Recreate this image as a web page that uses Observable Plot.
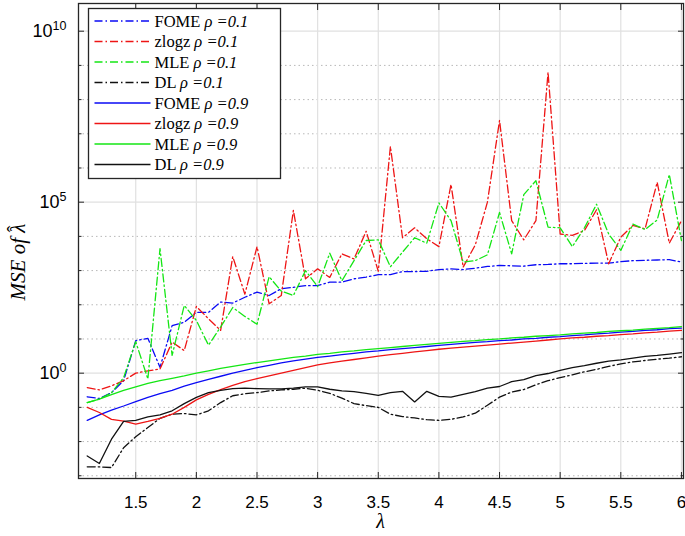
<!DOCTYPE html>
<html><head><meta charset="utf-8">
<script src="https://cdn.jsdelivr.net/npm/d3@7"></script>
<script src="https://cdn.jsdelivr.net/npm/@observablehq/plot@0.6"></script>
<style>
html,body{margin:0;padding:0;background:#fff;}
#chart{position:relative;width:685px;height:536px;overflow:hidden;}
</style></head>
<body><div id="chart"></div>
<script>
// ---- data (MSE values given as log10 exponents) ----
const lambda = [1.1,1.2,1.3,1.4,1.5,1.6,1.7,1.8,1.9,2.0,
                2.1,2.2,2.3,2.4,2.5,2.6,2.7,2.8,2.9,3.0,
                3.1,3.2,3.3,3.4,3.5,3.6,3.7,3.8,3.9,4.0,
                4.1,4.2,4.3,4.4,4.5,4.6,4.7,4.8,4.9,5.0,
                5.1,5.2,5.3,5.4,5.5,5.6,5.7,5.8,5.9,6.0];

const seriesNames = ["FOME", "zlogz", "MLE", "DL", "FOME", "zlogz", "MLE", "DL"];
const seriesRho   = ["0.1", "0.1", "0.1", "0.1", "0.9", "0.9", "0.9", "0.9"];

const log10_FOME_rho01 = [-0.69,-0.74,-0.57,-0.22,0.95,1.02,0.17,1.39,1.49,1.78,
  1.78,2.08,2.05,2.22,2.37,2.27,2.47,2.51,2.56,2.56,
  2.66,2.66,2.76,2.81,2.88,2.88,2.97,2.97,2.98,3.03,
  3.05,3.03,3.07,3.12,3.15,3.14,3.13,3.17,3.18,3.20,
  3.20,3.21,3.22,3.22,3.26,3.29,3.30,3.31,3.32,3.25];
const log10_zlogz_rho01 = [-0.42,-0.49,-0.37,-0.22,0.00,0.07,0.12,0.91,0.66,1.95,
  1.59,1.25,3.41,2.31,3.70,2.03,2.27,4.76,2.76,3.05,
  2.80,3.49,3.34,4.15,2.98,6.63,3.96,4.25,3.93,3.70,
  5.52,3.10,3.75,5.00,7.39,4.46,3.90,4.46,8.80,4.07,
  4.03,4.17,4.78,3.20,3.98,4.32,4.22,5.58,3.80,4.46];
const log10_MLE_rho01 = [-0.86,-0.76,-0.57,-0.13,0.92,-0.17,3.64,0.52,1.98,1.54,
  0.82,1.35,1.92,1.66,1.43,2.82,2.40,2.27,3.00,2.53,
  3.51,2.70,3.29,3.88,3.90,3.11,3.54,3.96,3.80,4.98,
  4.46,3.25,3.29,3.46,4.70,3.49,5.22,5.63,4.27,4.25,
  3.70,4.25,4.94,4.07,3.59,4.36,4.20,4.48,5.81,3.88];
const log10_DL_rho01 = [-2.74,-2.74,-2.76,-2.18,-1.86,-1.59,-1.32,-1.20,-1.18,-1.22,
  -1.10,-0.86,-0.66,-0.60,-0.57,-0.52,-0.49,-0.47,-0.44,-0.50,
  -0.59,-0.73,-0.89,-0.95,-1.00,-1.20,-1.27,-1.31,-1.36,-1.38,
  -1.35,-1.28,-1.17,-0.94,-0.70,-0.55,-0.48,-0.34,-0.22,-0.13,
  -0.05,0.04,0.11,0.20,0.27,0.33,0.37,0.41,0.44,0.48];
const log10_FOME_rho09 = [-1.38,-1.22,-1.08,-0.96,-0.83,-0.71,-0.60,-0.50,-0.38,-0.28,
  -0.18,-0.09,0.00,0.08,0.16,0.23,0.30,0.36,0.41,0.46,
  0.50,0.54,0.58,0.62,0.65,0.69,0.72,0.75,0.78,0.81,
  0.84,0.87,0.90,0.92,0.95,0.97,1.00,1.02,1.05,1.07,
  1.10,1.12,1.15,1.17,1.20,1.22,1.25,1.27,1.30,1.32];
const log10_zlogz_rho09 = [-1.00,-1.15,-1.35,-1.40,-1.49,-1.41,-1.32,-1.20,-1.00,-0.78,
  -0.62,-0.48,-0.36,-0.25,-0.16,-0.08,0.00,0.08,0.16,0.24,
  0.30,0.35,0.40,0.45,0.50,0.54,0.58,0.62,0.66,0.70,
  0.73,0.76,0.79,0.82,0.85,0.88,0.91,0.94,0.97,1.00,
  1.03,1.05,1.08,1.10,1.13,1.15,1.18,1.20,1.23,1.25];
const log10_MLE_rho09 = [-0.86,-0.76,-0.63,-0.50,-0.40,-0.30,-0.22,-0.15,-0.08,0.00,
  0.07,0.14,0.20,0.26,0.31,0.36,0.41,0.46,0.50,0.55,
  0.58,0.62,0.65,0.69,0.72,0.75,0.78,0.81,0.84,0.87,
  0.90,0.93,0.95,0.98,1.00,1.03,1.05,1.08,1.10,1.12,
  1.15,1.17,1.19,1.22,1.24,1.26,1.29,1.31,1.33,1.36];
const log10_DL_rho09 = [-2.42,-2.64,-1.93,-1.41,-1.38,-1.28,-1.22,-1.10,-0.89,-0.71,
  -0.57,-0.50,-0.45,-0.44,-0.45,-0.46,-0.46,-0.44,-0.40,-0.40,
  -0.47,-0.52,-0.54,-0.59,-0.65,-0.57,-0.53,-0.84,-0.53,-0.68,
  -0.70,-0.62,-0.54,-0.44,-0.39,-0.25,-0.19,-0.07,-0.01,0.08,
  0.16,0.22,0.29,0.35,0.39,0.44,0.49,0.52,0.56,0.60];

const seriesValues = [log10_FOME_rho01, log10_zlogz_rho01, log10_MLE_rho01, log10_DL_rho01,
                      log10_FOME_rho09, log10_zlogz_rho09, log10_MLE_rho09, log10_DL_rho09];

const xTicks = [1.5, 2, 2.5, 3, 3.5, 4, 4.5, 5, 5.5, 6];
const yMajorTicks = [1, 1e5, 1e10];
const yMinorTicks = [1e-3, 1e-2, 1e-1, 1e1, 1e2, 1e3, 1e4, 1e6, 1e7, 1e8, 1e9];

// ---- styles ----
const BLUE = "#0a0af5", RED = "#ee1515", GREEN = "#14e614", BLACK = "#111";
const DASHDOT = "8,3,1.5,3";
const seriesColors = [BLUE, RED, GREEN, BLACK, BLUE, RED, GREEN, BLACK];
const seriesDashes = [DASHDOT, DASHDOT, DASHDOT, DASHDOT, null, null, null, null];

const rows = seriesValues.flatMap((vals, i) =>
  lambda.map((x, j) => ({lambda: x, mse: Math.pow(10, vals[j]), series: i})));

const W = 685, H = 536;
const mL = 78, mR = 2, mT = 3, mB = 58;
const FRAME = "#262626";
const TICKFONT = 17;

const lineMarks = seriesValues.map((_, i) =>
  Plot.line(rows.filter(r => r.series === i), {
    x: "lambda", y: "mse", stroke: seriesColors[i], strokeWidth: 1.3,
    strokeDasharray: seriesDashes[i]
  }));

const plot = Plot.plot({
  width: W, height: H,
  marginLeft: mL, marginRight: mR, marginTop: mT, marginBottom: mB,
  style: {fontFamily: "'Liberation Sans', Arial, Helvetica, sans-serif", fontSize: TICKFONT + "px", background: "#fff", color: "#000", overflow: "visible"},
  x: {domain: [1.028, 6.017], label: null},
  y: {type: "log", domain: [Math.pow(10, -3.08), Math.pow(10, 10.81)], label: null},
  marks: [
    Plot.ruleY(yMinorTicks, {stroke: "#b8b8b8", strokeWidth: 1, strokeDasharray: "1.5,3"}),
    Plot.ruleY(yMajorTicks, {stroke: "#e0e0e0", strokeWidth: 1.2}),
    Plot.ruleX(xTicks, {stroke: "#e0e0e0", strokeWidth: 1.2}),
    ...lineMarks,
    Plot.axisX({ticks: xTicks, anchor: "bottom", tickSize: -6, fill: "none", stroke: FRAME, label: null}),
    Plot.axisX({ticks: xTicks, anchor: "top", tickSize: -6, fill: "none", stroke: FRAME, label: null}),
    Plot.axisX({ticks: xTicks, anchor: "bottom", tickSize: 0, tickPadding: 17, tickFormat: d => String(d), label: null}),
    Plot.axisY({ticks: yMajorTicks, anchor: "left", tickSize: -6, fill: "none", stroke: FRAME, label: null}),
    Plot.axisY({ticks: yMinorTicks, anchor: "left", tickSize: -3.5, fill: "none", stroke: FRAME, label: null}),
    Plot.axisY({ticks: yMajorTicks, anchor: "right", tickSize: -6, fill: "none", stroke: FRAME, label: null}),
    Plot.axisY({ticks: yMinorTicks, anchor: "right", tickSize: -3.5, fill: "none", stroke: FRAME, label: null}),
    Plot.axisY({ticks: yMajorTicks, anchor: "left", tickSize: 0, tickPadding: 12,
      tickFormat: d => String(Math.round(Math.log10(d))), label: null}),
    Plot.frame({stroke: FRAME, strokeWidth: 1.3})
  ]
});

document.getElementById("chart").appendChild(plot);
const svg = d3.select(plot);

// tick label font size
svg.selectAll('g[aria-label="x-axis tick label"] text, g[aria-label="y-axis tick label"] text')
  .attr("font-size", TICKFONT).style("font-size", TICKFONT + "px");

// superscript exponents for y tick labels
svg.selectAll('g[aria-label="y-axis tick label"] text').each(function() {
  const e = this.textContent;
  const t = d3.select(this);
  t.text(null);
  t.append("tspan").style("font-size", "18px").text("10");
  t.append("tspan").attr("dy", "-0.55em").style("font-size", "12.5px").text(e);
});

// axis titles
const serif = "'Liberation Serif', 'Times New Roman', serif";
const yl = svg.append("text")
  .attr("transform", `translate(25,262) rotate(-90)`)
  .attr("text-anchor", "middle")
  .attr("font-family", serif).attr("font-style", "italic").attr("font-size", 21);
yl.append("tspan").text("MSE of λ");
yl.append("tspan").attr("dx", "-0.42em").attr("dy", "-0.12em").attr("font-style", "normal").text("\u02C6");
svg.append("text")
  .attr("x", (mL + W - mR) / 2).attr("y", 528)
  .attr("text-anchor", "middle")
  .attr("font-family", serif).attr("font-style", "italic").attr("font-size", 20)
  .text("λ");

// legend (inside plot, top-left)
const lg = svg.append("g").attr("font-family", serif).attr("font-size", 16.5).attr("text-anchor", "start");
const lgX = 88.5, lgY = 8.5, lgW = 192, rowH = 20.5;
lg.append("rect").attr("x", lgX).attr("y", lgY).attr("width", lgW).attr("height", rowH * 8 + 6)
  .attr("fill", "#fff").attr("stroke", FRAME).attr("stroke-width", 1.3);
seriesNames.forEach((name, i) => {
  const cy = lgY + 12.5 + i * rowH;
  lg.append("line").attr("x1", lgX + 6).attr("x2", lgX + 62).attr("y1", cy).attr("y2", cy)
    .attr("stroke", seriesColors[i]).attr("stroke-width", 1.3)
    .attr("stroke-dasharray", seriesDashes[i]);
  const t = lg.append("text").attr("x", lgX + 66).attr("y", cy).attr("dy", "0.35em")
    .attr("text-anchor", "start");
  t.append("tspan").text(name + " ");
  t.append("tspan").attr("font-style", "italic").text("ρ =" + seriesRho[i]);
});
</script>
</body></html>
